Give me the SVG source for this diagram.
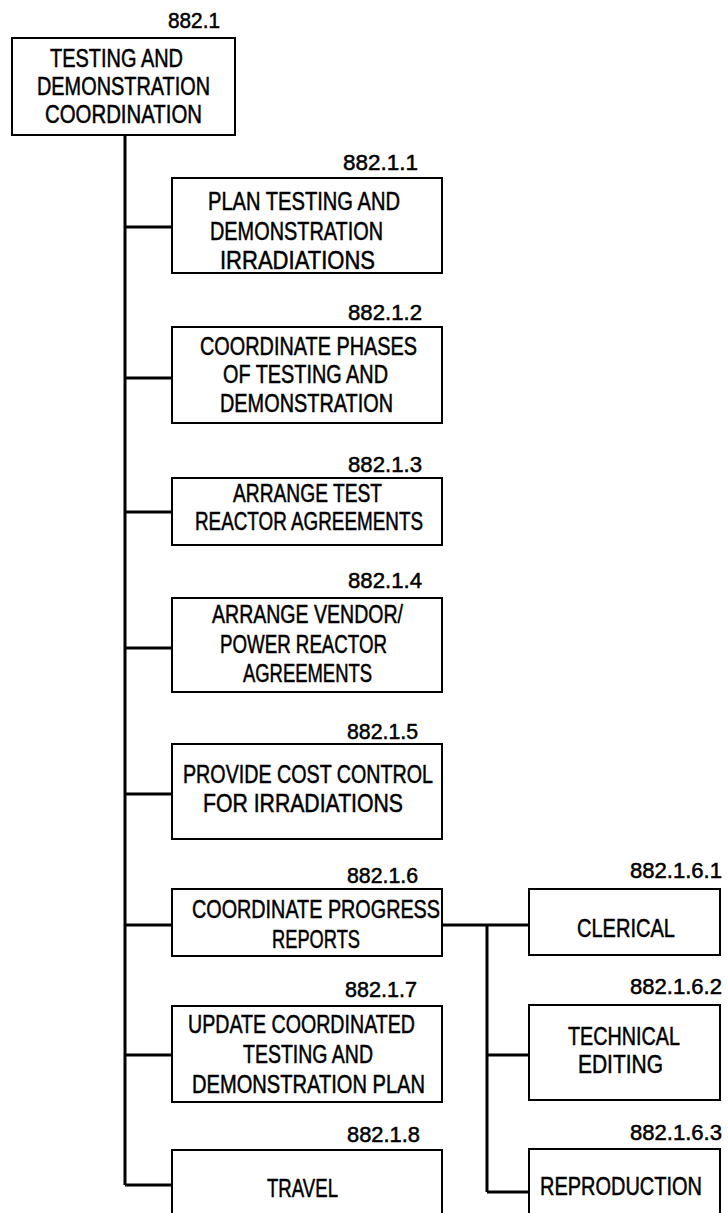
<svg xmlns="http://www.w3.org/2000/svg" width="728" height="1213" viewBox="0 0 728 1213">
<style>
.box{fill:#fff;stroke:#000;stroke-width:2}
.c{fill:none;stroke:#000;stroke-width:3}
text{font-family:"Liberation Sans",Arial,sans-serif;fill:#000;stroke:#000;stroke-width:0.5}
.t{font-size:25px}
.n{font-size:21.5px}
</style>
<rect width="728" height="1213" fill="#fff"/>
<g id="connectors">
<path class="c" d="M125 135V1185M125 227H172M125 378H172M125 512H172M125 648H172M125 794H172M125 925H172M125 1055H172M125 1185H172"/>
<path class="c" d="M442 925H529M487 925V1192M487 1055H529M487 1192H529"/>
</g>
<g id="n882_1">
<rect class="box" x="12" y="38" width="223" height="97"/>
<text class="n" x="168" y="28" textLength="52" lengthAdjust="spacingAndGlyphs">882.1</text>
<text class="t" x="50" y="67" textLength="133" lengthAdjust="spacingAndGlyphs">TESTING AND</text>
<text class="t" x="37" y="95" textLength="173" lengthAdjust="spacingAndGlyphs">DEMONSTRATION</text>
<text class="t" x="45" y="123" textLength="157" lengthAdjust="spacingAndGlyphs">COORDINATION</text>
</g>
<g id="n882_1_1">
<rect class="box" x="172" y="178" width="270" height="95"/>
<text class="n" x="343" y="170" textLength="75" lengthAdjust="spacingAndGlyphs">882.1.1</text>
<text class="t" x="208" y="210" textLength="192" lengthAdjust="spacingAndGlyphs">PLAN TESTING AND</text>
<text class="t" x="210" y="240" textLength="173" lengthAdjust="spacingAndGlyphs">DEMONSTRATION</text>
<text class="t" x="220" y="269" textLength="155" lengthAdjust="spacingAndGlyphs">IRRADIATIONS</text>
</g>
<g id="n882_1_2">
<rect class="box" x="172" y="327" width="270" height="96"/>
<text class="n" x="348" y="320" textLength="74" lengthAdjust="spacingAndGlyphs">882.1.2</text>
<text class="t" x="200" y="355" textLength="217" lengthAdjust="spacingAndGlyphs">COORDINATE PHASES</text>
<text class="t" x="223" y="383" textLength="165" lengthAdjust="spacingAndGlyphs">OF TESTING AND</text>
<text class="t" x="220" y="412" textLength="173" lengthAdjust="spacingAndGlyphs">DEMONSTRATION</text>
</g>
<g id="n882_1_3">
<rect class="box" x="172" y="478" width="270" height="67"/>
<text class="n" x="348" y="472" textLength="74" lengthAdjust="spacingAndGlyphs">882.1.3</text>
<text class="t" x="233" y="502" textLength="149" lengthAdjust="spacingAndGlyphs">ARRANGE TEST</text>
<text class="t" x="195" y="530" textLength="228" lengthAdjust="spacingAndGlyphs">REACTOR AGREEMENTS</text>
</g>
<g id="n882_1_4">
<rect class="box" x="172" y="598" width="270" height="94"/>
<text class="n" x="348" y="588" textLength="74" lengthAdjust="spacingAndGlyphs">882.1.4</text>
<text class="t" x="212" y="623" textLength="191" lengthAdjust="spacingAndGlyphs">ARRANGE VENDOR/</text>
<text class="t" x="220" y="653" textLength="167" lengthAdjust="spacingAndGlyphs">POWER REACTOR</text>
<text class="t" x="243" y="682" textLength="129" lengthAdjust="spacingAndGlyphs">AGREEMENTS</text>
</g>
<g id="n882_1_5">
<rect class="box" x="172" y="744" width="270" height="95"/>
<text class="n" x="347" y="739" textLength="71" lengthAdjust="spacingAndGlyphs">882.1.5</text>
<text class="t" x="183" y="783" textLength="250" lengthAdjust="spacingAndGlyphs">PROVIDE COST CONTROL</text>
<text class="t" x="203" y="812" textLength="200" lengthAdjust="spacingAndGlyphs">FOR IRRADIATIONS</text>
</g>
<g id="n882_1_6">
<rect class="box" x="172" y="889" width="270" height="67"/>
<text class="n" x="347" y="883" textLength="71" lengthAdjust="spacingAndGlyphs">882.1.6</text>
<text class="t" x="192" y="918" textLength="248" lengthAdjust="spacingAndGlyphs">COORDINATE PROGRESS</text>
<text class="t" x="272" y="948" textLength="88" lengthAdjust="spacingAndGlyphs">REPORTS</text>
</g>
<g id="n882_1_7">
<rect class="box" x="172" y="1006" width="270" height="96"/>
<text class="n" x="345" y="997" textLength="72" lengthAdjust="spacingAndGlyphs">882.1.7</text>
<text class="t" x="188" y="1033" textLength="227" lengthAdjust="spacingAndGlyphs">UPDATE COORDINATED</text>
<text class="t" x="243" y="1063" textLength="130" lengthAdjust="spacingAndGlyphs">TESTING AND</text>
<text class="t" x="192" y="1093" textLength="233" lengthAdjust="spacingAndGlyphs">DEMONSTRATION PLAN</text>
</g>
<g id="n882_1_8">
<path class="box" d="M172 1213V1150H442V1213"/>
<text class="n" x="347" y="1142" textLength="73" lengthAdjust="spacingAndGlyphs">882.1.8</text>
<text class="t" x="267" y="1197" textLength="71" lengthAdjust="spacingAndGlyphs">TRAVEL</text>
</g>
<g id="n882_1_6_1">
<rect class="box" x="529" y="889" width="191" height="66"/>
<text class="n" x="630" y="878" textLength="92" lengthAdjust="spacingAndGlyphs">882.1.6.1</text>
<text class="t" x="577" y="937" textLength="98" lengthAdjust="spacingAndGlyphs">CLERICAL</text>
</g>
<g id="n882_1_6_2">
<rect class="box" x="529" y="1005" width="191" height="95"/>
<text class="n" x="630" y="994" textLength="92" lengthAdjust="spacingAndGlyphs">882.1.6.2</text>
<text class="t" x="568" y="1045" textLength="112" lengthAdjust="spacingAndGlyphs">TECHNICAL</text>
<text class="t" x="578" y="1073" textLength="85" lengthAdjust="spacingAndGlyphs">EDITING</text>
</g>
<g id="n882_1_6_3">
<path class="box" d="M529 1213V1149H720V1213"/>
<text class="n" x="630" y="1140" textLength="92" lengthAdjust="spacingAndGlyphs">882.1.6.3</text>
<text class="t" transform="translate(540 1195) scale(0.8 1)" x="0" y="0" textLength="202.5" lengthAdjust="spacingAndGlyphs">REPRODUCTION</text>
</g>
</svg>
